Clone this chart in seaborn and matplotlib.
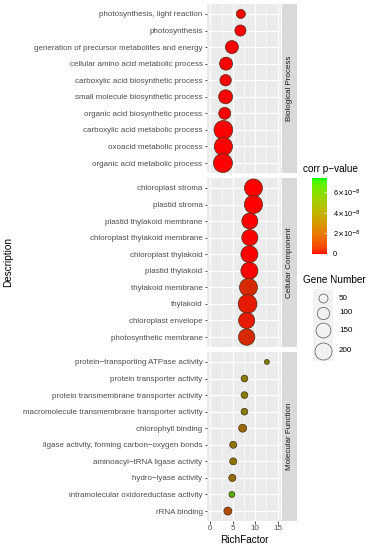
import numpy as np
import pandas as pd
import matplotlib
matplotlib.use("Agg")
import matplotlib.pyplot as plt
import seaborn as sns
from matplotlib.colors import ListedColormap, LinearSegmentedColormap, Normalize
from matplotlib.patches import Rectangle
import matplotlib.cm as cm

# ---------------- data ----------------
ontologies = ["Biological Process", "Cellular Component", "Molecular Function"]

bp_terms = ["photosynthesis, light reaction", "photosynthesis",
            "generation of precursor metabolites and energy",
            "cellular amino acid metabolic process",
            "carboxylic acid biosynthetic process",
            "small molecule biosynthetic process",
            "organic acid biosynthetic process",
            "carboxylic acid metabolic process",
            "oxoacid metabolic process",
            "organic acid metabolic process"]
bp_rich = [6.8, 6.7, 4.8, 3.5, 3.4, 3.4, 3.2, 2.9, 2.9, 2.8]
bp_genes = [50, 80, 113, 113, 85, 132, 95, 245, 230, 250]
bp_padj = [1e-20, 1e-20, 1e-18, 1e-16, 1e-15, 1e-15, 1e-15, 1e-20, 1e-20, 1e-20]

cc_terms = ["chloroplast stroma", "plastid stroma", "plastid thylakoid membrane",
            "chloroplast thylakoid membrane", "chloroplast thylakoid",
            "plastid thylakoid", "thylakoid membrane", "thylakoid",
            "chloroplast envelope", "photosynthetic membrane"]
cc_rich = [9.6, 9.6, 8.8, 8.8, 8.7, 8.7, 8.5, 8.3, 8.1, 8.1]
cc_genes = [224, 230, 176, 178, 199, 200, 224, 245, 180, 185]
cc_padj = [1e-20, 1e-20, 1e-19, 1e-19, 1e-19, 1e-19, 1.2e-8, 0.8e-8, 0.8e-8, 1.2e-8]

mf_terms = ["protein\u2212transporting ATPase activity", "protein transporter activity",
            "protein transmembrane transporter activity",
            "macromolecule transmembrane transporter activity",
            "chlorophyll binding",
            "ligase activity, forming carbon\u2212oxygen bonds",
            "aminoacyl\u2212tRNA ligase activity", "hydro\u2212lyase activity",
            "intramolecular oxidoreductase activity", "rRNA binding"]
mf_rich = [12.6, 7.6, 7.6, 7.6, 7.2, 5.1, 5.1, 4.9, 4.8, 3.9]
mf_genes = [9, 24, 24, 24, 37, 27, 27, 28, 17, 37]
mf_padj = [3.8e-8, 3.6e-8, 3.6e-8, 3.6e-8, 3.0e-8, 3.4e-8, 3.4e-8, 3.1e-8, 5.0e-8, 2.2e-8]

pmax = 7.4e-8
cbar_ticks = [0, 2e-8, 4e-8, 6e-8]
cbar_labels = ["0", r"2$\times$10$^{-8}$", r"4$\times$10$^{-8}$", r"6$\times$10$^{-8}$"]
size_breaks = [50, 100, 150, 200]
x_ticks = [0, 5, 10, 15]

frames = []
for ont, t, r, g, p in [(ontologies[0], bp_terms, bp_rich, bp_genes, bp_padj),
                        (ontologies[1], cc_terms, cc_rich, cc_genes, cc_padj),
                        (ontologies[2], mf_terms, mf_rich, mf_genes, mf_padj)]:
    frames.append(pd.DataFrame({"Ontology": ont, "Description": t,
                                "RichFactor": r, "GeneNumber": g, "padj": p}))
df = pd.concat(frames, ignore_index=True)

# ---------------- colormaps ----------------
def srgb_to_lab(rgb):
    rgb = np.asarray(rgb, float)
    lin = np.where(rgb <= 0.04045, rgb / 12.92, ((rgb + 0.055) / 1.055) ** 2.4)
    M = np.array([[0.4124, 0.3576, 0.1805], [0.2126, 0.7152, 0.0722], [0.0193, 0.1192, 0.9505]])
    xyz = M @ lin
    wp = np.array([0.95047, 1.0, 1.08883])
    f = xyz / wp
    f = np.where(f > 216 / 24389, np.cbrt(f), (24389 / 27 * f + 16) / 116)
    return np.array([116 * f[1] - 16, 500 * (f[0] - f[1]), 200 * (f[1] - f[2])])

def lab_to_srgb(lab):
    L, a, b = lab
    fy = (L + 16) / 116
    fx = fy + a / 500
    fz = fy - b / 200
    def finv(t):
        return np.where(t ** 3 > 216 / 24389, t ** 3, (116 * t - 16) / (24389 / 27))
    wp = np.array([0.95047, 1.0, 1.08883])
    xyz = np.array([finv(fx), finv(fy), finv(fz)]) * wp
    Minv = np.linalg.inv(np.array([[0.4124, 0.3576, 0.1805], [0.2126, 0.7152, 0.0722], [0.0193, 0.1192, 0.9505]]))
    lin = np.clip(Minv @ xyz, 0, 1)
    rgb = np.where(lin <= 0.0031308, 12.92 * lin, 1.055 * lin ** (1 / 2.4) - 0.055)
    return np.clip(rgb, 0, 1)

lab_lo = srgb_to_lab([1, 0, 0])
lab_hi = srgb_to_lab([0, 1, 0])
cmap_bar = ListedColormap([lab_to_srgb(lab_lo + (lab_hi - lab_lo) * t) for t in np.linspace(0, 1, 256)])
cmap_pts = LinearSegmentedColormap.from_list("rg", ["#FF0000", "#00FF00"])
norm = Normalize(vmin=0, vmax=pmax)

# size mapping (area in pt^2, linear in gene number)
size_norm = (0, 260)
sizes = (6.2, 193.4)
def area_of(v):
    return sizes[0] + (sizes[1] - sizes[0]) * (v - size_norm[0]) / (size_norm[1] - size_norm[0])

# ---------------- figure ----------------
W, H = 372, 550
plt.rcParams["font.family"] = ["Liberation Sans", "DejaVu Sans"]
fig = plt.figure(figsize=(W / 100, H / 100), dpi=100)

FS_TXT = 5.75
FS_TITLE = 7.2

px_l, px_r = 207, 281
panels_px = [(4, 173), (178, 347), (352, 521)]
strip_px = (282, 297)

for i, ont in enumerate(ontologies):
    top, bot = panels_px[i]
    ax = fig.add_axes([px_l / W, 1 - bot / H, (px_r - px_l) / W, (bot - top) / H])
    sub = df[df["Ontology"] == ont]
    ax.set_facecolor("#EBEBEB")
    ax.set_axisbelow(True)
    sns.scatterplot(data=sub, x="RichFactor", y="Description", hue="padj",
                    hue_norm=norm, palette=cmap_pts, size="GeneNumber",
                    sizes=sizes, size_norm=size_norm, edgecolor="#4A2E1A",
                    linewidth=0.5, legend=False, ax=ax, zorder=3)
    ax.set_xlim(-0.75, 15.75)
    ax.set_ylim(len(sub) - 0.4, -0.6)
    ax.set_xticks(x_ticks)
    ax.set_xticks([2.5, 7.5, 12.5], minor=True)
    ax.grid(True, which="major", color="white", linewidth=0.9)
    ax.grid(True, which="minor", axis="x", color="white", linewidth=0.45)
    for s in ax.spines.values():
        s.set_visible(False)
    ax.tick_params(axis="y", which="major", labelsize=FS_TXT, labelcolor="#4D4D4D",
                   color="#333333", length=1.8, width=0.6, pad=1.4)
    ax.tick_params(axis="x", which="minor", length=0)
    ax.set_ylabel("")
    if i < 2:
        ax.tick_params(axis="x", which="major", length=0, labelbottom=False)
        ax.set_xlabel("")
    else:
        ax.tick_params(axis="x", which="major", labelsize=FS_TXT, labelcolor="#4D4D4D",
                       color="#333333", length=1.8, width=0.6, pad=1.4)
        ax.set_xlabel("RichFactor", fontsize=FS_TITLE, color="black", labelpad=2)

    sax = fig.add_axes([strip_px[0] / W, 1 - bot / H, (strip_px[1] - strip_px[0]) / W, (bot - top) / H])
    sax.set_facecolor("#D9D9D9")
    sax.set_xticks([]); sax.set_yticks([])
    for s in sax.spines.values():
        s.set_visible(False)
    sax.text(0.5, 0.5, ont, rotation=90, ha="center", va="center",
             fontsize=FS_TXT, color="#1A1A1A", transform=sax.transAxes)

fig.text(8 / W, 1 - 262 / H, "Description", rotation=90, ha="center", va="center",
         fontsize=FS_TITLE, color="black")

# ---------------- colour legend ----------------
fig.text(303 / W, 1 - 169 / H, "corr p\u2212value", ha="left", va="center", fontsize=FS_TITLE)
cax = fig.add_axes([312 / W, 1 - 254 / H, 15 / W, 76 / H])
sm = cm.ScalarMappable(norm=norm, cmap=cmap_bar)
cb = fig.colorbar(sm, cax=cax)
cb.outline.set_visible(False)
cb.set_ticks(cbar_ticks)
cb.set_ticklabels(cbar_labels)
cax.tick_params(labelsize=FS_TXT - 0.4, length=2.5, color="white", width=0.5,
                direction="in", pad=4, labelcolor="black")

# ---------------- size legend (drawn as keys like ggplot) ----------------
fig.text(303 / W, 1 - 280 / H, "Gene Number", ha="left", va="center", fontsize=FS_TITLE)
key_centers = [298, 313, 330, 351]
key_edges = [289, 305.5, 321.5, 340.5, 361]
lax = fig.add_axes([313 / W, 1 - 361 / H, 20 / W, 72 / H])
lax.set_xlim(313, 333)
lax.set_ylim(361, 289)
lax.axis("off")
for j, v in enumerate(size_breaks):
    lax.add_patch(Rectangle((313, key_edges[j]), 20, key_edges[j + 1] - key_edges[j],
                            facecolor="#F2F2F2", edgecolor="none"))
    lax.scatter([323], [key_centers[j]], s=area_of(v), facecolor="#F2F2F2",
                edgecolor="#555555", linewidth=0.5, zorder=3)
    fig.text(339 / W, 1 - key_centers[j] / H, str(v), ha="left", va="center",
             fontsize=FS_TXT, color="black")

fig.savefig("out.png", dpi=100)
